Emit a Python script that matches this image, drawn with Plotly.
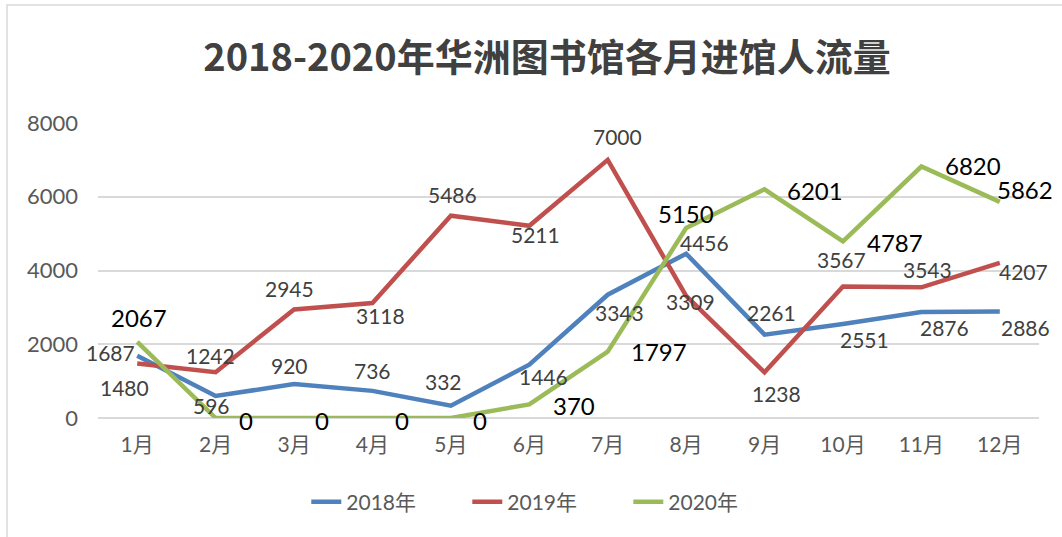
import plotly.graph_objects as go

months = ["1月", "2月", "3月", "4月", "5月", "6月", "7月", "8月", "9月", "10月", "11月", "12月"]
v2018 = [1687, 596, 920, 736, 332, 1446, 3343, 4456, 2261, 2551, 2876, 2886]
v2019 = [1480, 1242, 2945, 3118, 5486, 5211, 7000, 3309, 1238, 3567, 3543, 4207]
v2020 = [2067, 0, 0, 0, 0, 370, 1797, 5150, 6201, 4787, 6820, 5862]
y_ticks = [0, 2000, 4000, 6000, 8000]

# label offsets (pixels: dx right, dy down) relative to each point
off2018 = [(-27, -3), (-4, 9), (-5, -19), (0, -20), (-7, -24), (14, 12),
           (12, 18), (18, -11), (7, -22), (22, 16), (23, 16), (26, 16)]
off2019 = [(-13, 24), (-5, -17), (-5, -21), (8, 12), (2, -21), (6, 9),
           (10, -23), (4, 6), (12, 21), (-1, -27), (6, -18), (24, 9)]
off2020 = [(2, -24), (30, 2), (28, 2), (30, 2), (29, 2), (45, 1),
           (51, 0), (0, -15), (50, 1), (52, 1), (52, -1), (25, -12)]

FONT = "Lato, 'Noto Sans CJK SC', sans-serif"

fig = go.Figure()
series = [
    ("2018年", v2018, "#4F81BD", off2018, "#404040", 21),
    ("2019年", v2019, "#C0504D", off2019, "#404040", 21),
    ("2020年", v2020, "#9BBB59", off2020, "#000000", 24),
]
annotations = []
for name, vals, color, offs, tcolor, tsize in series:
    fig.add_trace(go.Scatter(
        x=months, y=vals, name=name, mode="lines",
        line=dict(color=color, width=4.5),
    ))
    for m, v, (dx, dy) in zip(months, vals, offs):
        annotations.append(dict(
            x=m, y=v, xref="x", yref="y", text=str(v), showarrow=False,
            xanchor="center", yanchor="middle", xshift=dx, yshift=-dy,
            font=dict(family=FONT, size=tsize, color=tcolor),
        ))

fig.update_layout(
    width=1062, height=537,
    margin=dict(l=98, r=23, t=123, b=119),
    paper_bgcolor="white", plot_bgcolor="white",
    title=dict(text="<b>2018-2020年华洲图书馆各月进馆人流量</b>",
               x=0.515, xanchor="center", y=0.892, yanchor="middle",
               font=dict(family="'Noto Sans CJK SC', sans-serif", size=38, color="#404040")),
    xaxis=dict(range=[-0.5, 11.5], showgrid=False, showline=False, ticks="",
               ticklabelstandoff=12,
               tickfont=dict(family=FONT, size=21, color="#595959")),
    yaxis=dict(range=[0, 8000], tickvals=y_ticks, showgrid=True, gridcolor="#D9D9D9", gridwidth=1.5,
               zeroline=True, zerolinecolor="#D9D9D9", zerolinewidth=1.5, ticks="",
               ticklabelstandoff=19,
               tickfont=dict(family=FONT, size=22, color="#595959")),
    legend=dict(orientation="h", x=0.478, xanchor="center", y=-0.285, yanchor="middle",
                font=dict(family=FONT, size=21, color="#595959"),
                entrywidth=116, entrywidthmode="pixels"),
    annotations=annotations,
    shapes=[dict(type="rect", xref="paper", yref="paper",
                 x0=(7 - 98) / 941, x1=1080 / 941, y0=-130 / 295, y1=(418 - 5) / 295,
                 line=dict(color="#D9D9D9", width=1.5), fillcolor="rgba(0,0,0,0)", layer="below")],
)

fig.write_html("out.html", config={"displayModeBar": False},
               post_script="document.body.style.margin='0';")
